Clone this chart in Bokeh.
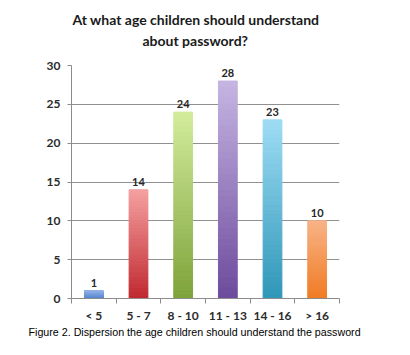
from bokeh.plotting import figure
from bokeh.models import (ColumnDataSource, FixedTicker, LabelSet, Range1d, Title)
from bokeh.core.properties import value
from bokeh.embed import file_html
from bokeh.resources import INLINE

categories = ["< 5", "5 - 7", "8 - 10", "11 - 13", "14 - 16", "> 16"]
values = [1, 14, 24, 28, 23, 10]
y_ticks = [0, 5, 10, 15, 20, 25, 30]
title_lines = ["At what age children should understand", "about password?"]
caption = "Figure 2. Dispersion the age children should understand the password"

top_colors = [(143, 176, 230), (244, 160, 160), (210, 236, 156), (197, 181, 226), (158, 220, 244), (248, 179, 134)]
bottom_colors = [(79, 127, 207), (192, 40, 47), (126, 162, 58), (109, 74, 156), (46, 150, 184), (240, 122, 34)]

W, H = 410, 355
p = figure(width=W, height=H, output_backend="svg", toolbar_location=None,
           x_range=Range1d(0, len(categories)), y_range=Range1d(0, 30),
           min_border_left=71, min_border_right=71, min_border_top=65, min_border_bottom=57)
p.outline_line_color = None
p.background_fill_color = "white"
p.border_fill_color = "white"

# gradient bars: stacked slices
N = 40
xs, bots, tops, cols = [], [], [], []
for i, v in enumerate(values):
    tc, bc = top_colors[i], bottom_colors[i]
    for k in range(N):
        f = (k + 0.5) / N
        c = tuple(int(round(bc[j] + (tc[j] - bc[j]) * f)) for j in range(3))
        xs.append(i + 0.5)
        bots.append(v * k / N)
        tops.append(v * (k + 1) / N)
        cols.append("#%02x%02x%02x" % c)
src = ColumnDataSource(dict(x=xs, bottom=bots, top=tops, color=cols))
p.vbar(x="x", bottom="bottom", top="top", width=0.42, color="color", source=src)

lab_src = ColumnDataSource(dict(x=[i + 0.5 for i in range(len(values))], y=values,
                                t=[str(v) for v in values]))
p.add_layout(LabelSet(x="x", y="y", text="t", source=lab_src, y_offset=4,
                      text_align="center", text_baseline="bottom",
                      text_font=value("Lato"), text_font_style="bold", text_font_size="11px",
                      text_color="#262626"))

# axes
p.xgrid.grid_line_color = None
p.ygrid.grid_line_color = "#909090"
p.ygrid.grid_line_width = 1
p.yaxis.ticker = FixedTicker(ticks=y_ticks)
p.yaxis.axis_line_color = "#8c8c8c"
p.yaxis.major_tick_line_color = "#8c8c8c"
p.yaxis.major_tick_out = 4
p.yaxis.major_tick_in = 0
p.yaxis.minor_tick_line_color = None
p.yaxis.major_label_standoff = 7
p.yaxis.major_label_text_font = "Lato"
p.yaxis.major_label_text_font_style = "bold"
p.yaxis.major_label_text_font_size = "12px"
p.yaxis.major_label_text_color = "#2b2b2b"

centers = [i + 0.5 for i in range(len(categories))]
p.xaxis.ticker = FixedTicker(ticks=centers, minor_ticks=list(range(len(categories) + 1)))
p.xaxis.major_label_overrides = {c: lab for c, lab in zip(centers, categories)}
p.xaxis.axis_line_color = "#8c8c8c"
p.xaxis.major_tick_line_color = None
p.xaxis.major_tick_out = 0
p.xaxis.major_tick_in = 0
p.xaxis.minor_tick_line_color = "#8c8c8c"
p.xaxis.minor_tick_out = 5
p.xaxis.minor_tick_in = 0
p.xaxis.major_label_standoff = 4
p.xaxis.major_label_text_font = "Lato"
p.xaxis.major_label_text_font_style = "bold"
p.xaxis.major_label_text_font_size = "12px"
p.xaxis.major_label_text_color = "#2b2b2b"

# title lines and caption
p.add_layout(Title(text=title_lines[1], align="left", offset=71, standoff=34,
                   text_font="Lato", text_font_style="bold", text_font_size="14px",
                   text_color="#1a1a1a"), "above")
p.add_layout(Title(text=title_lines[0], align="left", offset=1, standoff=-30,
                   text_font="Lato", text_font_style="bold", text_font_size="14px",
                   text_color="#1a1a1a"), "above")
p.add_layout(Title(text=caption, align="left", offset=-43, standoff=-3,
                   text_font="Liberation Sans", text_font_style="normal", text_font_size="10.7px",
                   text_color="#000000"), "below")

open("out.html", "w").write(file_html(p, INLINE))
